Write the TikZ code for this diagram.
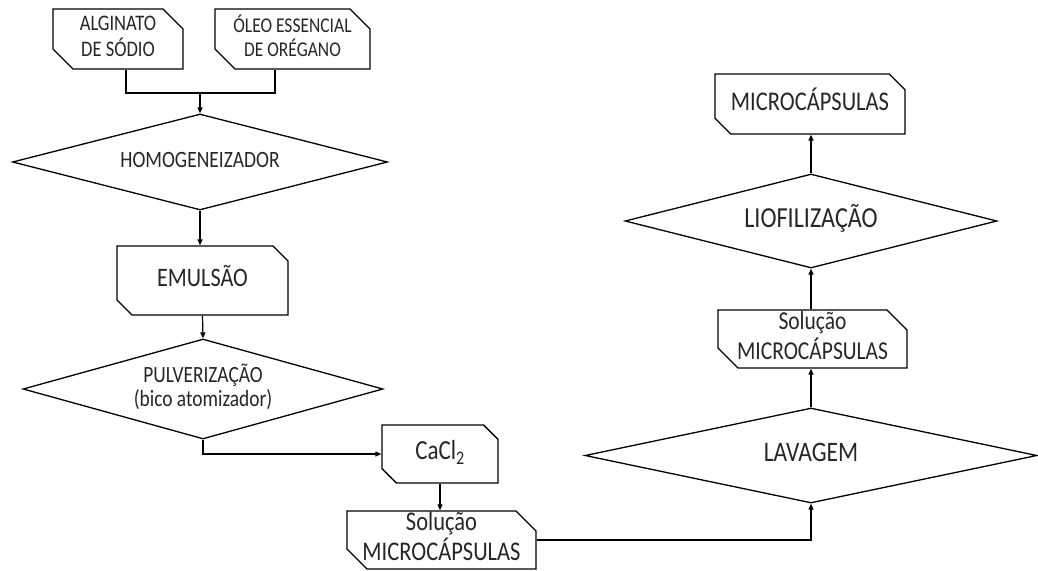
\documentclass[tikz,border=0pt]{standalone}
\usepackage{fontspec}
\usepackage{graphicx}
\setmainfont{Carlito}
\usetikzlibrary{shapes.misc,shapes.geometric,arrows.meta,calc}
\newcommand{\esticado}[1]{\scalebox{1}[1.2]{\begin{tabular}{@{}c@{}}#1\end{tabular}}}

\begin{document}
\begin{tikzpicture}[x=1pt,y=-1pt,
		caixa/.style={chamfered rectangle, chamfered rectangle corners={north east,south west}, chamfered rectangle xsep=10pt, chamfered rectangle ysep=10pt, draw, line width=1.3pt, inner xsep=0pt, inner ysep=-10pt, align=center, text=black!85},
		etapa/.style={diamond, draw, line width=1.3pt, inner sep=0pt, align=center, text=black!85},
		seta/.style={-{Triangle[length=6pt,width=5pt]}, line width=1.2pt}]
		\useasboundingbox (0,0) rectangle (1038,570);
		\node[caixa, minimum width=130pt, minimum height=60pt, font=\fontsize{18.5}{19.5}\selectfont] (alg) at (118,39) {\esticado{ALGINATO\\DE SÓDIO}};
		\node[caixa, minimum width=155pt, minimum height=60pt, font=\fontsize{17.5}{18.3}\selectfont] (oleo) at (292.5,39) {\esticado{ÓLEO ESSENCIAL\\DE ORÉGANO}};
		\node[etapa, aspect=3.906, minimum width=375pt, minimum height=96pt, font=\fontsize{19.5}{21}\selectfont] (homog) at (200,162) {\esticado{HOMOGENEIZADOR}};
		\node[caixa, minimum width=171pt, minimum height=69pt, font=\fontsize{22.2}{24}\selectfont] (emul) at (202.5,280.5) {\esticado{EMULSÃO}};
		\node[etapa, aspect=3.6, minimum width=360pt, minimum height=100pt, font=\fontsize{19.4}{20}\selectfont] (pulv) at (203,389) {\esticado{PULVERIZAÇÃO\\(bico atomizador)}};
		\node[caixa, minimum width=116pt, minimum height=58pt, font=\fontsize{23}{24}\selectfont] (cacl) at (440,454) {\esticado{CaCl\textsubscript{2}}};
		\node[caixa, minimum width=189pt, minimum height=56pt, font=\fontsize{22.5}{22.8}\selectfont] (sol1) at (441.5,540) {\esticado{Solução\\MICROCÁPSULAS}};
		\node[etapa, aspect=4.758, minimum width=452pt, minimum height=95pt, font=\fontsize{23.5}{25}\selectfont] (lav) at (811,455.5) {\esticado{LAVAGEM}};
		\node[caixa, minimum width=189pt, minimum height=58pt, font=\fontsize{21.5}{22.5}\selectfont] (sol2) at (812.5,339) {\esticado{Solução\\MICROCÁPSULAS}};
		\node[etapa, aspect=3.957, minimum width=372pt, minimum height=94pt, font=\fontsize{24.2}{26}\selectfont] (liof) at (811,221) {\esticado{LIOFILIZAÇÃO}};
		\node[caixa, minimum width=190pt, minimum height=60pt, font=\fontsize{22.5}{25}\selectfont] (micro) at (810,104) {\esticado{MICROCÁPSULAS}};
		\coordinate (junta) at (200,93);
		\draw[line width=1.2pt] ($(alg.south)+(8,0)$) |- (junta) -| ($(oleo.south)+(-17.5,0)$);
		\draw[seta] (junta) -- (homog.north);
		\draw[seta] (homog.south) -- (emul.north -| homog.south);
		\draw[seta] (emul.south) -- (pulv.north);
		\draw[seta] (pulv.south) |- (cacl.west);
		\draw[seta] (cacl.south) -- (sol1.north -| cacl.south);
		\draw[seta] (sol1.east) -| (lav.south);
		\draw[seta] (lav.north) -- (sol2.south -| lav.north);
		\draw[seta] (sol2.north -| liof.south) -- (liof.south);
		\draw[seta] (liof.north) -- (micro.south -| liof.north);
	\end{tikzpicture}
\end{document}
